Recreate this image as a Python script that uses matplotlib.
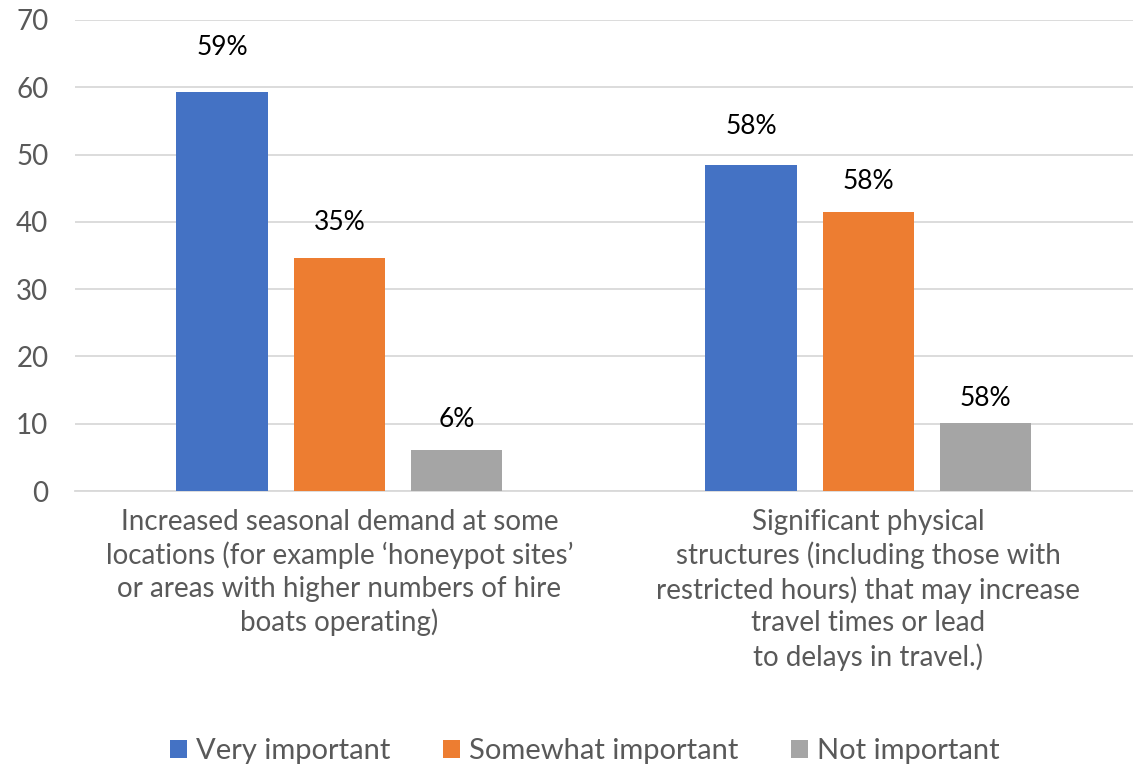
import numpy as np
import matplotlib.pyplot as plt
from matplotlib.patches import Patch

plt.rcParams['font.family'] = ['Lato', 'DejaVu Sans']

categories = [
    "Increased seasonal demand at some\nlocations (for example \u2018honeypot sites\u2019\nor areas with higher numbers of hire\nboats operating)",
    "Significant physical\nstructures (including those with\nrestricted hours) that may increase\ntravel times or lead\nto delays in travel.)",
]
series_names = ["Very important", "Somewhat important", "Not important"]
very_important = [59.3, 48.5]
somewhat_important = [34.6, 41.4]
not_important = [6.1, 10.1]
bar_labels = [["59%", "58%"], ["35%", "58%"], ["6%", "58%"]]
# label offsets above the bar tops, in pixels (labels were nudged by hand in the original)
label_offsets = [[44, 38], [36, 31], [30, 25]]
colors = ["#4472C4", "#ED7D31", "#A5A5A5"]

grey_text = "#595959"

fig = plt.figure(figsize=(11.33, 7.66), dpi=100)
ax = fig.add_axes([0.066, 0.359, 0.934, 0.615])

x = np.arange(len(categories))
width = 0.173
step = 0.2216
values = [very_important, somewhat_important, not_important]

for i, (vals, col) in enumerate(zip(values, colors)):
    pos = x + (i - 1) * step
    ax.bar(pos, vals, width, color=col, zorder=3)
    for p, v, lab, off in zip(pos, vals, bar_labels[i], label_offsets[i]):
        ax.annotate(lab, (p, v), xytext=(0, off), textcoords='offset pixels',
                    ha='center', va='center', fontsize=19, color='black')

ax.set_xlim(-0.5, 1.5)
ax.set_ylim(0, 70)
ax.set_yticks(range(0, 71, 10))
ax.yaxis.grid(True, color='#D9D9D9', linewidth=1.3, zorder=0)
for s in ['top', 'right', 'left']:
    ax.spines[s].set_visible(False)
ax.spines['bottom'].set_color('#D9D9D9')
ax.spines['bottom'].set_linewidth(1.3)
ax.tick_params(axis='y', length=0, labelsize=20, labelcolor=grey_text, pad=19)
ax.tick_params(axis='x', length=0, labelsize=20, labelcolor=grey_text, pad=13)
ax.set_xticks(x)
ax.set_xticklabels(categories, linespacing=1.3, va='top')

handles = [Patch(facecolor=c, label=n) for c, n in zip(colors, series_names)]
leg = fig.legend(handles=handles, loc='center', bbox_to_anchor=(0.516, 0.019), ncol=3,
                 frameon=False, fontsize=21, handlelength=0.6, handleheight=0.6,
                 handletextpad=0.3, columnspacing=1.8)
for t in leg.get_texts():
    t.set_color(grey_text)

fig.savefig('out.png', dpi=100)
